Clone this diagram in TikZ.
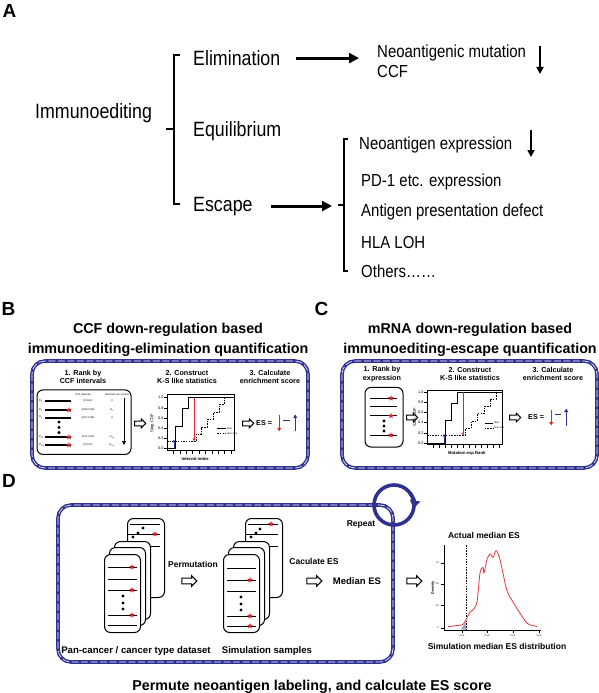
\documentclass[tikz,border=0pt]{standalone}
\usepackage{fontspec}
\setmainfont{Liberation Sans}
\newfontfamily\condensed[FakeStretch=0.86]{Liberation Sans}
\usetikzlibrary{arrows.meta,positioning,shapes.arrows,shapes.geometric}

\definecolor{framenavy}{HTML}{2E3192}
\definecolor{markred}{HTML}{E6232B}
\definecolor{curvered}{HTML}{E8363A}
\newcommand{\picfs}[2]{\fontsize{#1}{#2}\selectfont}

\begin{document}
\begin{tikzpicture}[
  x=1pt, y=-1pt,
  >=Stealth,
  panel label/.style={font=\picfs{19}{19}\bfseries, inner sep=0pt},
  stage/.style={font=\condensed\picfs{20.7}{24}, inner sep=0pt, anchor=base west},
  outcome/.style={font=\condensed\picfs{17.4}{20}, inner sep=0pt, anchor=base west},
  bracket/.style={line width=1.8pt},
  thick arrow/.style={line width=3pt, -{Triangle[length=10pt,width=10pt]}},
  down arrow/.style={line width=1.8pt, -{Triangle[length=7pt,width=7pt]}},
  panel title/.style={font=\picfs{14.3}{20}\bfseries, align=center, inner sep=0pt},
  step title/.style={font=\picfs{7.2}{8.6}\bfseries, align=center, inner sep=0pt},
  flow label/.style={font=\picfs{8.5}{10}\bfseries, inner sep=0pt},
  sample label/.style={font=\picfs{9.6}{11}\bfseries, inner sep=0pt},
  tiny/.style={font=\picfs{2.6}{3}, inner sep=0pt},
  tick label/.style={font=\picfs{3.8}{4}, inner sep=0pt},
  axis label/.style={font=\picfs{4.2}{5}\bfseries, inner sep=0pt},
  frame/.style={draw=framenavy, line width=3.6pt, rounded corners=13pt,
    postaction={draw=white, line width=0.6pt, dash pattern=on 7pt off 2.5pt}},
  rankbox/.style={draw, line width=1pt, rounded corners=6pt, inner sep=0pt},
  card/.style={draw, fill=white, line width=1pt, rounded corners=6pt,
    anchor=north west, inner sep=0pt},
  hollow/.style={single arrow, draw, line width=1.1pt, fill=white,
    minimum height=15pt, minimum width=10pt, single arrow head extend=2.5pt,
    inner sep=2.3pt},
  small hollow/.style={hollow, line width=1pt, minimum height=11pt,
    minimum width=8.5pt, single arrow head extend=2pt, inner sep=1.9pt},
  redstar/.style={star, star points=5, star point ratio=2.3, fill=markred,
    inner sep=0pt, minimum size=6pt},
  dot/.style={circle, fill, inner sep=0pt, minimum size=3.4pt},
  cdf/.style={line width=0.8pt},
  cdf dash/.style={line width=0.8pt, dash pattern=on 1.5pt off 1.2pt},
  es down/.style={markred, line width=1.3pt, -{Triangle[length=3.5pt,width=3.8pt]}},
  es up/.style={framenavy, line width=1.2pt, -{Triangle[length=3.5pt,width=3.8pt]}}
]
  \useasboundingbox (0,0) rectangle (599,693);

  % A: the three phases of immunoediting
  \node[panel label] (lblA) at (9.5,11) {A};
  \node[stage] (immuno) at (35,118) {Immunoediting};
  \node[stage] (elim) at (193,65.5) {Elimination};
  \node[stage] (equi) at (193,136.5) {Equilibrium};
  \node[stage] (escape) at (193,211) {Escape};

  \coordinate (br1top) at (174,55);
  \coordinate (br1bot) at (174,204);
  \coordinate (br1mid) at (174,129);
  \draw[bracket] ([xshift=6pt]br1top) -- (br1top) -- (br1bot) -- ([xshift=6pt]br1bot);
  \draw[bracket] (br1mid) -- ++(-8,0);

  \node[outcome] (neomut) at (377,57) {Neoantigenic mutation};
  \node[outcome] (ccf) at (377,77.5) {CCF};
  \draw[thick arrow] ([xshift=16pt]elim.east) -- ([xshift=-18pt]neomut.west |- elim.east);
  \coordinate (ccfdown) at (540,46);
  \draw[down arrow] (ccfdown) -- ++(0,28);

  \coordinate (br2top) at (344,139);
  \coordinate (br2bot) at (344,271);
  \coordinate (br2mid) at (344,205);
  \draw[bracket] ([xshift=4pt]br2top) -- (br2top) -- (br2bot) -- ([xshift=4pt]br2bot);
  \draw[bracket] (br2mid) -- ++(-6,0);
  \draw[thick arrow] ([xshift=18pt]escape.east) -- ([xshift=-12pt]br2mid |- escape.east);

  \node[outcome] (neoexp) at (359,149) {Neoantigen expression};
  \node[outcome] (pdone) at (361,186) {PD-1 etc. expression};
  \node[outcome] (apd) at (361,216.5) {Antigen presentation defect};
  \node[outcome] (hla) at (361,248) {HLA LOH};
  \node[outcome] (others) at (361,277) {Others……};
  \coordinate (expdown) at (531,130);
  \draw[down arrow] (expdown) -- ++(0,27);

  % B and C: enrichment score for elimination and escape
  \node[panel label] (lblB) at (8.5,309) {B};
  \node[panel label] (lblC) at (321.5,309) {C};
  \node[panel title] (titleB) at (168,339.5) {CCF down-regulation based\\immunoediting-elimination quantification};
  \node[panel title] (titleC) at (470,339.5) {mRNA down-regulation based\\immunoediting-escape quantification};
  \draw[frame] (32,361) rectangle (308,468);
  \draw[frame] (342,361) rectangle (597,468);

  \node[step title] (stepB1) at (83,377) {1. Rank by\\CCF intervals};
  \node[step title] (stepB2) at (187,377) {2. Construct\\K-S like statistics};
  \node[step title] (stepB3) at (270,377) {3. Calculate\\enrichment score};

  \node[rankbox, minimum width=94pt, minimum height=64.5pt] (rankB) at (84,422.2) {};
  \node[tiny] (hdrint) at (83,394.5) {CCF intervals};
  \node[tiny] (hdrcnt) at (117,394.5) {Neo/Non-neo counts};
  \foreach \yy/\rlab/\ival/\cnt/\neo in {400.7/1/{[0.99,1]}/0/0, 410/2/{[0.98,0.99)}/m\textsubscript{2}/1,
      417.5/3/{[0.97,0.98)}/0/0, 437/99/{[0.01,0.02)}/m\textsubscript{99}/1,
      445/100/{[0,0.01)}/m\textsubscript{100}/1} {
    \node[tiny, anchor=west] (rl\rlab) at (39,\yy) {R\textsubscript{\rlab}};
    \draw[line width=2pt] (45,\yy) -- (71,\yy);
    \ifnum\neo=1 \node[redstar] (st\rlab) at (69,\yy) {}; \fi
    \node[tiny] (iv\rlab) at (88,\yy) {\ival};
    \node[tiny] (ct\rlab) at (112,\yy) {\cnt};
  }
  \foreach \yy/\dn in {422/1, 427.3/2, 432.6/3} \node[dot] (dB\dn) at (59,\yy) {};
  \draw[line width=0.8pt, -{Triangle[length=4pt,width=4pt]}] (124,398) -- (124,445);

  \node[small hollow] (arrB1) at (139,423.4) {};
  \begin{scope}[shift={(167,448.6)}, x=67pt, y=51pt]
    \draw[line width=0.4pt] (0,-0.035) rectangle (1,1.06);
    \foreach \v in {0.0,0.2,0.4,0.6,0.8,1.0} {
      \draw[line width=0.3pt] (-0.04,\v) -- (0,\v);
      \node[tick label, anchor=east] (tyB\v) at (-0.05,\v) {\v};
    }
    \foreach \t in {1,...,10} \draw[line width=0.3pt] (\t/10.5,-0.035) -- (\t/10.5,-0.1);
    \node[axis label] (xlabB) at (0.42,-0.2) {Interval index};
    \node[axis label, font=\picfs{4.2}{5}, rotate=90] (ylabB) at (-0.22,0.5) {Step CDF};
    \draw[cdf] (0,0) -- (0.12,0) -- (0.12,0.44) -- (0.224,0.44) -- (0.224,0.78)
      -- (0.313,0.78) -- (0.313,1) -- (1,1);
    \draw[cdf dash] (0,0.14) -- (0.433,0.14) -- (0.433,0.28) -- (0.507,0.28) -- (0.507,0.42)
      -- (0.597,0.42) -- (0.597,0.57) -- (0.687,0.57) -- (0.687,0.71) -- (0.776,0.71)
      -- (0.776,0.86) -- (0.851,0.86) -- (0.851,1);
    \draw[markred, line width=0.9pt, -{Triangle[length=3pt,width=2.6pt]}] (0.403,1) -- (0.403,0.14);
    \draw[framenavy, line width=0.9pt, -{Triangle[length=3pt,width=2.6pt]}] (0.104,0) -- (0.104,0.18);
    \draw[cdf] (0.75,0.39) -- (0.88,0.39) node[tiny, right=1pt] (legB1) {Neo};
    \draw[cdf dash] (0.75,0.29) -- (0.88,0.29) node[tiny, right=1pt] (legB2) {Non-neo};
  \end{scope}
  \node[small hollow] (arrB2) at (247,423.4) {};
  \node[step title, anchor=west] (esB) at (256,423.4) {ES =};
  \draw[es down] ([xshift=7pt]esB.east) ++(0,-8) -- ++(0,16);
  \draw[framenavy, line width=1.3pt] ([xshift=11pt]esB.east) ++(0,-3) -- ++(7,0);
  \draw[es up] ([xshift=23pt]esB.east) ++(0,8) -- ++(0,-17);

  \node[step title] (stepC1) at (382,374) {1. Rank by\\expression};
  \node[step title] (stepC2) at (470,374) {2. Construct\\K-S like statistics};
  \node[step title] (stepC3) at (553,374) {3. Calculate\\enrichment score};

  \node[rankbox, minimum width=38pt, minimum height=59.6pt] (rankC) at (384,417.2) {};
  \foreach \yy/\neo/\ln in {398.2/1/1, 406.6/0/2, 415.8/1/3, 435.2/1/4} {
    \draw[line width=0.9pt] (370,\yy) -- (397,\yy);
    \ifnum\neo=1 \node[redstar] (sc\ln) at (391,\yy) {}; \fi
  }
  \foreach \yy/\dn in {421/1, 426/2, 431/3} \node[dot] (dC\dn) at (384,\yy) {};

  \node[small hollow] (arrC1) at (411,417.5) {};
  \begin{scope}[shift={(427,442.9)}, x=75pt, y=51pt]
    \draw[line width=0.4pt] (0,-0.035) rectangle (1,1.03);
    \foreach \v in {0.0,0.2,0.4,0.6,0.8,1.0} {
      \draw[line width=0.3pt] (-0.035,\v) -- (0,\v);
      \node[tick label, anchor=east] (tyC\v) at (-0.045,\v) {\v};
    }
    \foreach \t in {1,...,12} \draw[line width=0.3pt] (\t/12.5,-0.035) -- (\t/12.5,-0.1);
    \node[axis label] (xlabC) at (0.53,-0.2) {Mutation exp Rank};
    \node[axis label, font=\picfs{4.2}{5}, rotate=90] (ylabC) at (-0.16,0.5) {Step CDF};
    \draw[cdf] (0,0) -- (0.24,0) -- (0.24,0.44) -- (0.32,0.44) -- (0.32,0.78)
      -- (0.40,0.78) -- (0.40,1) -- (1,1);
    \draw[cdf dash] (0,0.14) -- (0.507,0.14) -- (0.507,0.28) -- (0.587,0.28) -- (0.587,0.42)
      -- (0.667,0.42) -- (0.667,0.57) -- (0.76,0.57) -- (0.76,0.71) -- (0.84,0.71)
      -- (0.84,0.86) -- (0.92,0.86) -- (0.92,1);
    \draw[markred, line width=0.9pt, -{Triangle[length=3pt,width=2.6pt]}] (0.48,1) -- (0.48,0.14);
    \draw[framenavy, line width=0.9pt, -{Triangle[length=3pt,width=2.6pt]}] (0.227,0) -- (0.227,0.18);
    \draw[cdf] (0.77,0.39) -- (0.88,0.39) node[tiny, right=1pt] (legC1) {Neo};
    \draw[cdf dash] (0.77,0.29) -- (0.88,0.29) node[tiny, right=1pt] (legC2) {Non-neo};
  \end{scope}
  \node[small hollow] (arrC2) at (514,417.5) {};
  \node[step title, anchor=west] (esC) at (528,417.5) {ES =};
  \draw[es down] ([xshift=7pt]esC.east) ++(0,-8) -- ++(0,16);
  \draw[framenavy, line width=1.3pt] ([xshift=11pt]esC.east) ++(0,-3) -- ++(6,0);
  \draw[es up] ([xshift=22pt]esC.east) ++(0,8) -- ++(0,-17);

  % D: permutation of neoantigen labels
  \node[panel label] (lblD) at (9,481) {D};
  \draw[frame] (58,505) rectangle (393,662);
  \coordinate (repeatc) at (394,505);
  \draw[framenavy, line width=3.6pt] (repeatc) circle[radius=20pt];
  \draw[framenavy, line width=3.6pt, -{Triangle[length=8pt,width=10pt]}]
    (repeatc) ++(40:20pt) arc[start angle=40, end angle=-10, radius=20pt];
  \node[flow label] (repeat) at (361,524) {Repeat};

  % dataset cards
  \node[card, minimum width=37pt, minimum height=79pt] (dsback) at (127,518) {};
  \begin{scope}[shift={(127,518)}]
    \draw[line width=0.9pt] (3,6) -- (33,6);
    \draw[line width=0.9pt] (1,16) -- (33,16);
    \node[redstar] (dsbst) at (28,16) {};
    \foreach \px/\py in {16/10, 11/15, 6/19} \node[dot] (dsbd\px) at (\px,\py) {};
    \draw[line width=0.9pt] (3,28) -- (33,28);
  \end{scope}
  \foreach \cx/\cy/\cn in {114/541/ds3, 109/547/ds2, 104/554/ds1}
    \node[card, minimum width=36pt, minimum height=78pt] (\cn) at (\cx,\cy) {};
  \begin{scope}[shift={(104,554)}]
    \foreach \ly/\neo in {13/1, 25/0, 36/1, 61/1, 71/0} {
      \draw[line width=0.9pt] (4,\ly) -- (33,\ly);
      \ifnum\neo=1 \node[redstar] (dsst\ly) at (28,\ly) {}; \fi
    }
    \foreach \ly in {42,49,55} \node[dot] (dsd\ly) at (19,\ly) {};
  \end{scope}

  % simulated sample cards
  \node[card, minimum width=37pt, minimum height=79pt] (smback) at (245,518) {};
  \begin{scope}[shift={(245,518)}]
    \draw[line width=0.9pt] (3,6) -- (33,6);
    \node[redstar] (smbst) at (26,6) {};
    \draw[line width=0.9pt] (1,16) -- (33,16);
    \foreach \px/\py in {15/11, 11/15, 6/19} \node[dot] (smbd\px) at (\px,\py) {};
    \draw[line width=0.9pt] (3,28) -- (33,28);
  \end{scope}
  \foreach \cx/\cy/\cn in {233/541/sm3, 228/547/sm2, 223/554/sm1}
    \node[card, minimum width=36pt, minimum height=78pt] (\cn) at (\cx,\cy) {};
  \begin{scope}[shift={(223,554)}]
    \foreach \ly/\neo in {14/0, 26/1, 37/0, 62/1, 72/1} {
      \draw[line width=0.9pt] (4,\ly) -- (33,\ly);
      \ifnum\neo=1 \node[redstar] (smst\ly) at (27,\ly) {}; \fi
    }
    \foreach \ly in {43,50,56} \node[dot] (smd\ly) at (18,\ly) {};
  \end{scope}

  \node[flow label] (perm) at (193,564) {Permutation};
  \node[hollow] (arrD1) at (188,581) {};
  \node[flow label] (calces) at (314,561) {Caculate ES};
  \node[hollow] (arrD2) at (313,581) {};
  \node[font=\picfs{9.5}{11}\bfseries, inner sep=0pt] (median) at (357,581) {Median ES};
  \node[hollow] (arrD3) at (413,581) {};
  \node[sample label] (pancan) at (136,651) {Pan-cancer / cancer type dataset};
  \node[sample label] (simsamp) at (267,651) {Simulation samples};

  % density of simulated median ES
  \node[flow label] (actual) at (484,535) {Actual median ES};
  \draw[line width=0.5pt] (444,545) -- (444,630) -- (541,630);
  \foreach \ty/\tl in {563/75, 584/50, 605.4/25, 627.7/0} {
    \draw[line width=0.3pt] (444,\ty) -- (441,\ty);
    \node[tiny, font=\picfs{2.4}{3}, anchor=east] (dy\tl) at (439,\ty) {\tl};
  }
  \foreach \tx/\tl in {462/0.02, 487/0.03, 513/0.04, 539/0.05} {
    \draw[line width=0.3pt] (\tx,630) -- (\tx,633);
    \node[tiny, font=\picfs{2.4}{3}] (dx\tx) at (\tx,636) {\tl};
  }
  \node[axis label, font=\picfs{3.6}{4}\bfseries, rotate=90] (dens) at (433,588) {Density};
  \fill[framenavy!45] (461,629.5) -- (466,622) -- (466,629.5) -- cycle;
  \draw[line width=0.5pt, dash pattern=on 1.5pt off 1.2pt] (466,545) -- (466,630);
  \draw[curvered, line width=0.8pt] plot[smooth, tension=0.5] coordinates {
    (448,626.6) (457,625.5) (463,624.4) (467,617.7) (470,612.1) (473,609.8) (477,602)
    (480,573) (483,567.4) (484,573) (487,559.5) (490,553.9) (493,557.3) (496,550.6)
    (499,556.2) (502,568.5) (507,590.8) (513,602) (520,613.2) (527,623.3) (533,625.5) (537,626.6)};
  \node[flow label] (simdist) at (497,646) {Simulation median ES distribution};

  \node[panel title] (permtitle) at (312,687) {Permute neoantigen labeling, and calculate ES score};
\end{tikzpicture}
\end{document}
